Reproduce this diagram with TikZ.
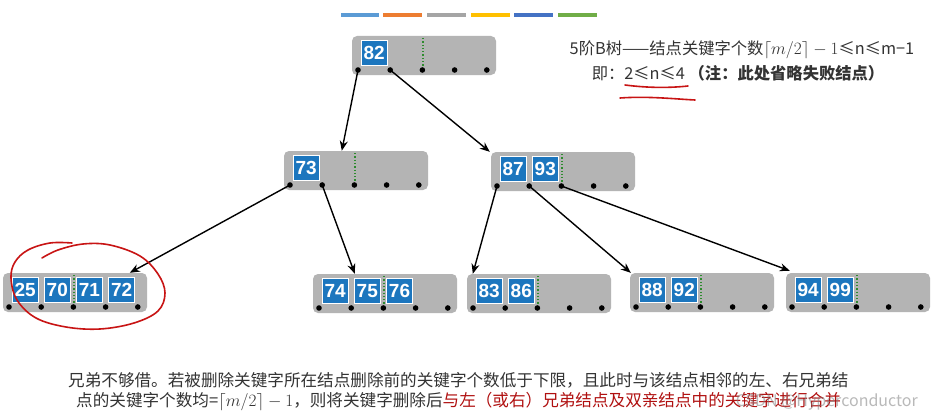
\documentclass[tikz,border=0pt]{standalone}
\usepackage{fontspec}
\setmainfont{Noto Sans CJK SC}
\newfontfamily\keyfont{Liberation Sans}
\usetikzlibrary{arrows.meta,calc}
\definecolor{nodegray}{HTML}{B4B4B4}
\definecolor{keyblue}{HTML}{1C76BE}
\definecolor{dotgreen}{HTML}{2E8B2E}
\definecolor{inkred}{HTML}{C81414}
\definecolor{txtred}{HTML}{B01010}
\definecolor{txtgray}{HTML}{333333}
\definecolor{barA}{HTML}{5B9BD5}
\definecolor{barB}{HTML}{ED7D31}
\definecolor{barC}{HTML}{A5A5A5}
\definecolor{barD}{HTML}{FFC000}
\definecolor{barE}{HTML}{4472C4}
\definecolor{barF}{HTML}{70AD47}
\tikzset{
  bbox/.style={fill=nodegray, rounded corners=5pt, minimum width=144pt, minimum height=39pt, inner sep=0pt},
  keybox/.style={fill=keyblue, draw=white, line width=0.5pt, minimum width=26pt, minimum height=25pt, inner sep=0pt, text=white, font=\keyfont\bfseries\fontsize{19}{19}\selectfont},
  gdot/.style={dotgreen, dotted, line width=1.3pt},
  link/.style={line width=1.4pt, -{Stealth[length=10pt,width=8pt]}},
  bar/.style={line width=4pt},
  ink/.style={inkred, line width=1.6pt, line cap=round},
  ttxt/.style={text=txtgray, font=\fontsize{16.3}{18}\selectfont, inner sep=0pt},
  btxt/.style={text=txtgray, font=\fontsize{16.6}{18}\selectfont, inner sep=0pt, anchor=west}
}
\newcommand{\btnode}[4]{%
  \node[bbox] (#1) at (#2+72,#3+19.5) {};
  \draw[gdot] (#2+71,#3+2) -- (#2+71,#3+33);
  \foreach \k [count=\i from 0] in {#4} {
    \node[keybox] (#1-k\i) at (#2+22.1+32.2*\i,#3+17) {\k};
  }
  \foreach \i in {0,...,4} {
    \coordinate (#1-d\i) at (#2+6+32.2*\i,#3+34);
    \fill (#1-d\i) circle (2.8pt);
  }
}
\begin{document}
\begin{tikzpicture}[x=1pt,y=-1pt]
\useasboundingbox (0,0) rectangle (934,420);
\fill[white] (0,0) rectangle (934,420);
% colour bars
\draw[bar,barA] (341,15) -- (379,15);
\draw[bar,barB] (383,15) -- (422,15);
\draw[bar,barC] (427,15) -- (466,15);
\draw[bar,barD] (471,15) -- (510,15);
\draw[bar,barE] (514,15) -- (553,15);
\draw[bar,barF] (558,15) -- (597,15);
% nodes
\btnode{root}{352}{36}{82}
\btnode{na}{284}{151}{73}
\btnode{nb}{491}{152}{87,93}
\btnode{la}{3}{273}{25,70,71,72}
\btnode{lb}{313}{274}{74,75,76}
\btnode{lc}{467}{274}{83,86}
\btnode{ld}{630}{273}{88,92}
\btnode{le}{786}{273}{94,99}
% targets
\coordinate (tna) at ($(na.north west)+(58,0)$);
\coordinate (tnb) at ($(nb.north west)+(-1,0)$);
\coordinate (tla) at ($(la.north west)+(127,0)$);
\coordinate (tlb) at ($(lb.north west)+(42,0)$);
\coordinate (tlc) at ($(lc.north west)+(6,0)$);
\coordinate (tld) at ($(ld.north west)+(1,0)$);
\coordinate (tle) at ($(le.north west)+(4,-2)$);
% links
\draw[link] (root-d0) -- (tna);
\draw[link] (root-d1) -- (tnb);
\draw[link] (na-d0) -- (tla);
\draw[link] (na-d1) -- (tlb);
\draw[link] (nb-d0) -- (tlc);
\draw[link] (nb-d1) -- (tld);
\draw[link] (nb-d2) -- (tle);
% top-right note
\node[ttxt] (t1) at (742,50) {5阶B树——结点关键字个数$\lceil m/2\rceil-1$≤n≤m−1};
\node[ttxt] (t2) at (738,73) {即：2≤n≤4 \textbf{（注：此处省略失败结点）}};
% red underlines
\draw[ink] (625,85) .. controls (648,88) and (670,88) .. (688,86);
\draw[ink] (620,98) .. controls (648,96) and (675,99) .. (695,100);
% red loop around leaf
\draw[ink] plot[smooth, tension=0.6] coordinates {(42,258) (58,250) (83,244) (110,245) (140,256) (158,274) (165,293) (158,311) (134,323) (100,329) (66,327) (36,318) (17,300) (11,278) (15,262) (28,250) (50,243) (72,243)};
% bottom text
\node[btxt] (b1) at (68,380) {兄弟不够借。若被删除关键字所在结点删除前的关键字个数低于下限，且此时与该结点相邻的左、右兄弟结};
\node[btxt] (b2) at (76,402) {点的关键字个数均=$\lceil m/2\rceil-1$，则将关键字删除后\textcolor{txtred}{与左（或右）兄弟结点及双亲结点中的关键字进行合并}};
\node[text=gray, opacity=0.55, font=\fontsize{16}{18}\selectfont, inner sep=0pt, anchor=east] (wm) at (918,402) {CSDN @Hyperconductor};
\end{tikzpicture}
\end{document}
